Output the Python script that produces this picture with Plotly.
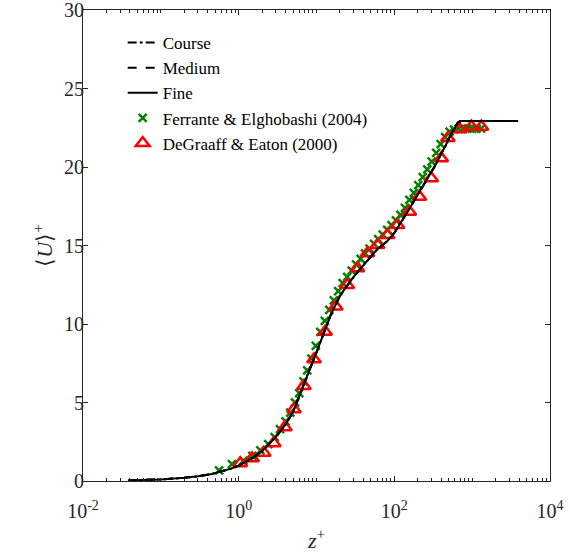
import plotly.graph_objects as go

# ---- LES profiles (three grids) ----
z_les = [0.038, 0.06, 0.1, 0.2, 0.3, 0.45, 0.6, 0.8, 1.0, 1.5, 2.0, 3.0, 4.0, 5.0, 6.0, 7.0, 8.0,
         10.0, 12.0, 15.0, 20.0, 25.0, 30.0, 35.0, 40.0, 50.0, 60.0, 80.0, 100.0, 150.0, 200.0,
         250.0, 300.0, 345.0, 400.0, 450.0, 500.0, 550.0, 600.0, 650.0, 690.0, 720.0, 800.0,
         1000.0, 1500.0, 2000.0, 3000.0, 3900.0]
U_course = [0.038, 0.06, 0.1, 0.2, 0.3, 0.45, 0.6, 0.79, 0.98, 1.45, 1.9, 2.8, 3.6, 4.4, 5.4, 6.3, 7.0,
            8.2, 9.2, 10.5, 11.8, 12.5, 13.0, 13.4, 13.75, 14.3, 14.75, 15.25, 15.8, 17.2, 18.25,
            19.05, 19.7, 20.2, 20.85, 21.3, 21.8, 22.2, 22.55, 22.8, 22.9, 22.93, 22.93,
            22.93, 22.93, 22.93, 22.93, 22.93]
U_medium = [0.038, 0.06, 0.1, 0.2, 0.3, 0.45, 0.6, 0.79, 0.98, 1.45, 1.9, 2.8, 3.6, 4.4, 5.4, 6.3, 7.0,
            8.2, 9.2, 10.5, 11.8, 12.5, 13.0, 13.4, 13.75, 14.3, 14.75, 15.25, 15.8, 17.2, 18.25,
            19.05, 19.7, 20.2, 20.85, 21.3, 21.8, 22.2, 22.55, 22.8, 22.9, 22.93, 22.93,
            22.93, 22.93, 22.93, 22.93, 22.93]
U_fine = [0.038, 0.06, 0.1, 0.2, 0.3, 0.45, 0.6, 0.79, 0.98, 1.45, 1.9, 2.8, 3.6, 4.4, 5.4, 6.3, 7.0,
          8.2, 9.2, 10.5, 11.8, 12.5, 13.0, 13.4, 13.75, 14.3, 14.75, 15.25, 15.8, 17.2, 18.25,
          19.05, 19.7, 20.2, 20.85, 21.3, 21.8, 22.2, 22.55, 22.8, 22.9, 22.93, 22.93,
          22.93, 22.93, 22.93, 22.93, 22.93]

# ---- Ferrante & Elghobashi (2004) ----
z_fe = [0.56, 0.82, 1.15, 1.5, 1.9, 2.4, 2.9, 3.4, 4.0, 4.6, 5.3, 6.0, 6.8, 7.6, 8.6, 9.8, 11.2,
        12.8, 14.6, 16.7, 19.0, 21.7, 24.8, 28.3, 32.3, 36.9, 42, 48, 55, 62, 71, 81, 92, 105,
        120, 137, 156, 178, 203, 232, 265, 302, 345, 394, 450, 513, 586, 669, 764, 872, 996,
        1137, 1298]
U_fe = [0.68, 1.08, 1.3, 1.6, 1.95, 2.35, 2.8, 3.3, 3.8, 4.35, 5.0, 5.6, 6.35, 7.05, 7.8, 8.6, 9.5,
        10.2, 10.9, 11.5, 12.1, 12.6, 13.0, 13.4, 13.8, 14.15, 14.5, 14.8, 15.1, 15.4, 15.7, 16.0,
        16.3, 16.6, 16.95, 17.4, 17.9, 18.35, 18.85, 19.35, 19.85, 20.35, 20.9, 21.45, 21.9, 22.25, 22.4,
        22.45, 22.45, 22.45, 22.45, 22.45, 22.45]

# ---- DeGraaff & Eaton (2000) ----
z_de = [1.05, 1.49, 2.10, 2.83, 3.93, 5.13, 6.90, 9.29, 12.9, 17.7, 24.9, 33.6, 45.2, 60.9, 82,
        110, 156, 210, 298, 401, 488, 690, 977, 1315]
U_de = [1.13, 1.45, 1.80, 2.40, 3.42, 4.57, 6.05, 7.75, 9.51, 11.11, 12.48, 13.55, 14.50, 15.03,
        15.67, 16.31, 17.15, 18.11, 19.28, 20.55, 21.85, 22.40, 22.57, 22.57]

x_tickvals = [0.01, 1, 100, 10000]
x_ticktext = ["10<sup>-2</sup>", "10<sup>0</sup>", "10<sup>2</sup>", "10<sup>4</sup>"]
y_tickvals = [0, 5, 10, 15, 20, 25, 30]

FONT = "Liberation Serif"
AX = "#262626"

fig = go.Figure()
fig.add_trace(go.Scatter(x=z_fe, y=U_fe, mode="markers", name="Ferrante & Elghobashi (2004)",
                         legendrank=4,
                         marker=dict(symbol="x-thin-open", size=8, color="rgb(0,128,0)",
                                     line=dict(color="rgb(0,128,0)", width=2.5))))
fig.add_trace(go.Scatter(x=z_de, y=U_de, mode="markers", name="DeGraaff & Eaton (2000)",
                         legendrank=5,
                         marker=dict(symbol="triangle-up-open", size=12, color="red",
                                     line=dict(color="red", width=2.5))))
fig.add_trace(go.Scatter(x=z_les, y=U_course, mode="lines", name="Course", legendrank=1,
                         line=dict(color="black", width=2, dash="dashdot")))
fig.add_trace(go.Scatter(x=z_les, y=U_medium, mode="lines", name="Medium", legendrank=2,
                         line=dict(color="black", width=2, dash="dash")))
fig.add_trace(go.Scatter(x=z_les, y=U_fine, mode="lines", name="Fine", legendrank=3,
                         line=dict(color="black", width=2)))

axis_common = dict(showgrid=False, zeroline=False, showline=True, linecolor=AX,
                   linewidth=1, mirror="ticks", ticks="inside", tickcolor=AX,
                   automargin=False, ticklabeloverflow="allow",
                   tickfont=dict(family=FONT, size=20, color=AX))

fig.update_xaxes(type="log", range=[-2, 4], tickvals=x_tickvals, ticktext=x_ticktext,
                 ticklen=5, ticklabelstandoff=12,
                 minor=dict(ticks="inside", ticklen=3, tickcolor=AX, dtick="D1"),
                 title=dict(text="<i>z</i><sup>+</sup>", font=dict(family=FONT, size=22, color=AX),
                            standoff=11),
                 **axis_common)
fig.update_yaxes(range=[0, 30], tickvals=y_tickvals, ticklen=5, ticklabelstandoff=-6,
                 title=dict(text="⟨<i>U</i>⟩<sup>+</sup>", font=dict(family=FONT, size=22, color=AX),
                            standoff=5),
                 **axis_common)

fig.update_layout(
    width=570, height=556,
    margin=dict(l=83, r=20, t=10, b=75),
    paper_bgcolor="white", plot_bgcolor="white",
    font=dict(family=FONT),
    showlegend=True,
    legend=dict(x=0.085, y=0.968, xanchor="left", yanchor="top",
                bgcolor="rgba(0,0,0,0)", font=dict(family=FONT, size=17, color="black"),
                itemwidth=30, tracegroupgap=0),
)

fig.write_html("out.html", config={"displayModeBar": False},
               post_script="document.body.style.margin='0';")
